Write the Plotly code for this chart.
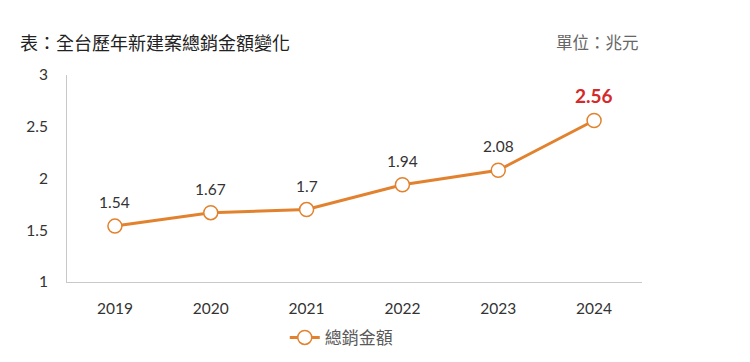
import plotly.graph_objects as go

years = ["2019", "2020", "2021", "2022", "2023", "2024"]
values = [1.54, 1.67, 1.70, 1.94, 2.08, 2.56]
labels = ["1.54", "1.67", "1.7", "1.94", "2.08", "2.56"]
series_name = "總銷金額"
title_text = "表：全台歷年新建案總銷金額變化"
unit_text = "單位：兆元"

orange = "#E2822E"
font_fam = "Lato, 'Noto Sans CJK TC', sans-serif"
cjk = "'Noto Sans CJK TC', sans-serif"

fig = go.Figure()
fig.add_trace(go.Scatter(
    x=years, y=values, mode="lines+markers", name=series_name,
    line=dict(color=orange, width=3),
    marker=dict(symbol="circle", size=14, color="white",
                line=dict(color=orange, width=1.5)),
    cliponaxis=False,
))

for i, (v, lab) in enumerate(zip(values, labels)):
    last = i == len(values) - 1
    fig.add_annotation(
        x=i, y=v, xref="x", yref="y", text=f"<b>{lab}</b>" if last else lab,
        showarrow=False, yshift=25 if last else 24,
        font=dict(size=19 if last else 15.5, color="#D42A2A" if last else "#333333",
                  family=font_fam),
    )

fig.add_annotation(
    x=(18 - 67) / 575, y=1 + (75 - 42) / 207, xref="paper", yref="paper",
    xanchor="left", yanchor="middle", text=title_text, showarrow=False,
    font=dict(size=18, color="#222222", family=cjk),
)
fig.add_annotation(
    x=(641 - 67) / 575, y=1 + (75 - 42) / 207, xref="paper", yref="paper",
    xanchor="right", yanchor="middle", text=unit_text, showarrow=False,
    font=dict(size=16.5, color="#666666", family=cjk),
)

fig.update_layout(
    width=750, height=362,
    margin=dict(l=67, r=108, t=75, b=80, autoexpand=False),
    paper_bgcolor="white", plot_bgcolor="white",
    font=dict(family=font_fam, size=15, color="#333333"),
    showlegend=True,
    legend=dict(orientation="h", x=0.477, xanchor="center", y=-0.27, yanchor="middle",
                font=dict(size=17, color="#595959", family=cjk),
                itemwidth=30),
    xaxis=dict(
        type="category", range=[-0.5, 5.5], showgrid=False, showline=True,
        linecolor="#C8C8C8", linewidth=1, ticks="", ticklabelstandoff=12,
        tickfont=dict(size=15.5, color="#333333"), automargin=False,
    ),
    yaxis=dict(
        range=[1, 3], tickvals=[1, 1.5, 2, 2.5, 3], ticktext=["1", "1.5", "2", "2.5", "3"],
        showgrid=False, showline=True, linecolor="#C8C8C8", linewidth=1,
        ticks="", ticklabelstandoff=15, zeroline=False, automargin=False,
        tickfont=dict(size=15.5, color="#333333"),
    ),
)

fig.write_html("out.html", config={"displayModeBar": False},
               post_script="document.body.style.margin='0';document.body.style.overflow='hidden';")
